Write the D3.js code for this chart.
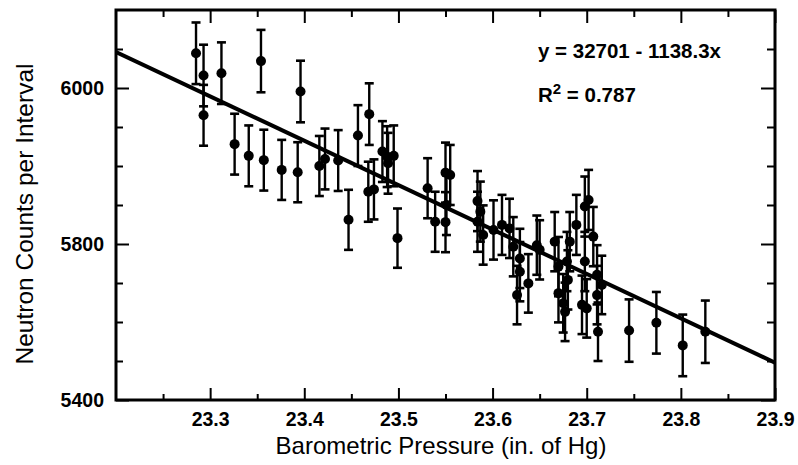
<!DOCTYPE html>
<html>
<head>
<meta charset="utf-8">
<script src="https://cdn.jsdelivr.net/npm/d3@7"></script>
<style>
  html, body { margin: 0; padding: 0; background: #fff; }
  svg { display: block; }
  text { font-family: "Liberation Sans", Arial, Helvetica, sans-serif; fill: #000; }
</style>
</head>
<body>
<svg id="chart" width="798" height="465"></svg>
<script>
// ---- data ----
const pressure = [23.285, 23.293, 23.293, 23.312, 23.354, 23.326, 23.341, 23.357, 23.376, 23.393,
  23.396, 23.416, 23.422, 23.436, 23.447, 23.457, 23.469, 23.468, 23.474, 23.483,
  23.488, 23.489, 23.495, 23.499, 23.531, 23.539, 23.550, 23.555, 23.551, 23.550,
  23.584, 23.587, 23.584, 23.590, 23.601, 23.610, 23.618, 23.622, 23.629, 23.638,
  23.626, 23.629, 23.647, 23.650, 23.666, 23.670, 23.670, 23.675, 23.679, 23.682,
  23.689, 23.698, 23.702, 23.707, 23.711, 23.698, 23.695, 23.712, 23.700, 23.711,
  23.677, 23.680, 23.716, 23.745, 23.774, 23.802, 23.826];
const counts = [6289, 6232, 6130, 6238, 6269, 6056, 6026, 6015, 5990, 5984,
  6191, 6000, 6018, 6014, 5862, 6078, 6133, 5934, 5940, 6037,
  6024, 6007, 6026, 5815, 5943, 5857, 5983, 5977, 5900, 5856,
  5910, 5883, 5857, 5823, 5836, 5849, 5840, 5793, 5763, 5699,
  5669, 5729, 5797, 5785, 5806, 5742, 5674, 5648, 5755, 5806,
  5849, 5896, 5913, 5819, 5721, 5755, 5644, 5575, 5635, 5669,
  5626, 5708, 5695, 5578, 5598, 5540, 5575];
const errors = [79, 79, 78, 79, 80, 78, 78, 78, 77, 77,
  79, 77, 78, 78, 77, 78, 79, 77, 77, 78,
  78, 78, 78, 76, 77, 77, 77, 77, 77, 77,
  77, 77, 77, 76, 76, 77, 76, 76, 76, 75,
  75, 76, 76, 76, 76, 76, 75, 75, 76, 76,
  77, 77, 77, 76, 76, 76, 75, 75, 75, 75,
  75, 76, 75, 80, 79, 79, 80];

const fitIntercept = 32701;
const fitSlope = -1138.3;
const equationText = "y = 32701 - 1138.3x";
const r2Value = "0.787";

const xMajorTicks = [23.3, 23.4, 23.5, 23.6, 23.7, 23.8, 23.9];
const xMinorTicks = [23.25, 23.35, 23.45, 23.55, 23.65, 23.75, 23.85];
const xTickLabels = ["23.3", "23.4", "23.5", "23.6", "23.7", "23.8", "23.9"];
const yMajorTicks = [5400, 5800, 6200];
const yMinorTicks = [5500, 5600, 5700, 5900, 6000, 6100, 6300];
const yTickLabels = ["5400", "5800", "6000"];

const xTitle = "Barometric Pressure (in. of Hg)";
const yTitle = "Neutron Counts per Interval";

// ---- layout ----
const L = 116, R = 775, T = 10, B = 400;
const svg = d3.select("#chart");

const x = d3.scaleLinear().domain([23.2, 23.9]).range([L, R]);
const y = d3.scaleLinear().domain([5400, 6400]).range([B, T]);

svg.append("clipPath").attr("id", "plotclip")
  .append("rect").attr("x", L).attr("y", T).attr("width", R - L).attr("height", B - T);

// ---- axes (ticks inward on all four sides) ----
function styleAxis(g) {
  g.select(".domain").remove();
  g.selectAll(".tick line").attr("stroke", "#000").attr("stroke-width", 2);
}
function styleLabels(g) {
  g.selectAll("text").attr("font-size", 19.5).attr("font-weight", "bold")
    .attr("font-family", "Liberation Sans, Arial, sans-serif").attr("fill", "#000");
}

const xLabelMap = new Map(xMajorTicks.map((v, i) => [v, xTickLabels[i]]));
const yLabelMap = new Map(yMajorTicks.map((v, i) => [v, yTickLabels[i]]));

svg.append("g").attr("transform", `translate(0,${B})`)
  .call(d3.axisBottom(x).tickValues(xMajorTicks).tickSizeInner(-12).tickSizeOuter(0).tickPadding(12)
    .tickFormat(d => xLabelMap.get(d)))
  .call(styleAxis).call(styleLabels);
svg.append("g").attr("transform", `translate(0,${B})`)
  .call(d3.axisBottom(x).tickValues(xMinorTicks).tickSizeInner(-6).tickSizeOuter(0).tickFormat(""))
  .call(styleAxis);
svg.append("g").attr("transform", `translate(0,${T})`)
  .call(d3.axisTop(x).tickValues(xMajorTicks).tickSizeInner(-13).tickSizeOuter(0).tickFormat(""))
  .call(styleAxis);
svg.append("g").attr("transform", `translate(0,${T})`)
  .call(d3.axisTop(x).tickValues(xMinorTicks).tickSizeInner(-7).tickSizeOuter(0).tickFormat(""))
  .call(styleAxis);
svg.append("g").attr("transform", `translate(${L},0)`)
  .call(d3.axisLeft(y).tickValues(yMajorTicks).tickSizeInner(-13).tickSizeOuter(0).tickPadding(12)
    .tickFormat(d => yLabelMap.get(d)))
  .call(styleAxis).call(styleLabels);
svg.append("g").attr("transform", `translate(${L},0)`)
  .call(d3.axisLeft(y).tickValues(yMinorTicks).tickSizeInner(-7).tickSizeOuter(0).tickFormat(""))
  .call(styleAxis);
svg.append("g").attr("transform", `translate(${R},0)`)
  .call(d3.axisRight(y).tickValues(yMajorTicks).tickSizeInner(-14).tickSizeOuter(0).tickFormat(""))
  .call(styleAxis);
svg.append("g").attr("transform", `translate(${R},0)`)
  .call(d3.axisRight(y).tickValues(yMinorTicks).tickSizeInner(-8).tickSizeOuter(0).tickFormat(""))
  .call(styleAxis);

// frame
svg.append("rect").attr("x", L).attr("y", T).attr("width", R - L).attr("height", B - T)
  .attr("fill", "none").attr("stroke", "#000").attr("stroke-width", 3);

// ---- regression line ----
const xd = x.domain();
svg.append("line")
  .attr("clip-path", "url(#plotclip)")
  .attr("x1", x(xd[0])).attr("y1", y(fitIntercept + fitSlope * xd[0]))
  .attr("x2", x(xd[1])).attr("y2", y(fitIntercept + fitSlope * xd[1]))
  .attr("stroke", "#000").attr("stroke-width", 4);

// ---- error bars & points ----
const data = pressure.map((p, i) => ({ p, c: counts[i], e: errors[i] }));
const capW = 4.5;
const gE = svg.append("g").attr("stroke", "#000");
gE.selectAll("line.bar").data(data).join("line").attr("class", "bar")
  .attr("x1", d => x(d.p)).attr("x2", d => x(d.p))
  .attr("y1", d => y(d.c - d.e)).attr("y2", d => y(d.c + d.e))
  .attr("stroke-width", 2.4);
gE.selectAll("line.capT").data(data).join("line").attr("class", "capT")
  .attr("x1", d => x(d.p) - capW).attr("x2", d => x(d.p) + capW)
  .attr("y1", d => y(d.c + d.e)).attr("y2", d => y(d.c + d.e))
  .attr("stroke-width", 2.6);
gE.selectAll("line.capB").data(data).join("line").attr("class", "capB")
  .attr("x1", d => x(d.p) - capW).attr("x2", d => x(d.p) + capW)
  .attr("y1", d => y(d.c - d.e)).attr("y2", d => y(d.c - d.e))
  .attr("stroke-width", 2.6);
svg.append("g").selectAll("circle").data(data).join("circle")
  .attr("cx", d => x(d.p)).attr("cy", d => y(d.c)).attr("r", 5).attr("fill", "#000");

// ---- annotation ----
svg.append("text").attr("x", 538).attr("y", 58)
  .attr("font-size", 20.5).attr("font-weight", "bold").text(equationText);
const r2 = svg.append("text").attr("x", 538).attr("y", 102)
  .attr("font-size", 20.5).attr("font-weight", "bold");
r2.append("tspan").text("R");
r2.append("tspan").attr("dy", -8).attr("font-size", 15).text("2");
r2.append("tspan").attr("dy", 8).text(" = " + r2Value);

// ---- titles ----
svg.append("text").attr("x", 441).attr("y", 454)
  .attr("text-anchor", "middle").attr("font-size", 24).text(xTitle);
svg.append("text").attr("transform", `translate(33,214) rotate(-90)`)
  .attr("text-anchor", "middle").attr("font-size", 24.5).text(yTitle);
</script>
</body>
</html>
